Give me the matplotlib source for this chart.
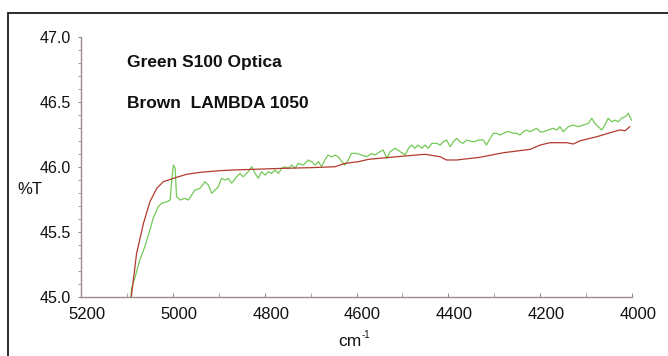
import numpy as np
import matplotlib
matplotlib.use("Agg")
from matplotlib import pyplot as plt
from matplotlib.patches import Rectangle
from matplotlib.transforms import ScaledTranslation

# S100 Optica (green) - wavenumber, %T
green_wn = [5091, 5090, 5082, 5072, 5061, 5050, 5043, 5032, 5024, 5013, 5006,
            5003, 4999, 4995, 4992, 4984, 4974, 4966, 4959, 4952, 4941, 4930,
            4923, 4915, 4908, 4901, 4894, 4886, 4879, 4872, 4861, 4854, 4847,
            4836, 4828, 4821, 4814, 4807, 4799, 4792, 4785, 4778, 4770, 4763,
            4756, 4749, 4741, 4734, 4727, 4716, 4705, 4698, 4690, 4683, 4676,
            4669, 4662, 4654, 4647, 4640, 4632, 4625, 4618, 4611, 4600, 4589,
            4578, 4567, 4560, 4549, 4542, 4534, 4527, 4516, 4505, 4494, 4487,
            4480, 4473, 4466, 4458, 4451, 4444, 4436, 4425, 4418, 4411, 4404,
            4396, 4389, 4382, 4375, 4368, 4360, 4349, 4342, 4335, 4324, 4317,
            4309, 4302, 4295, 4288, 4280, 4273, 4266, 4259, 4251, 4244, 4237,
            4229, 4222, 4215, 4208, 4200, 4193, 4182, 4172, 4164, 4157, 4150,
            4139, 4128, 4117, 4106, 4095, 4088, 4081, 4074, 4066, 4059, 4052,
            4044, 4037, 4030, 4023, 4015, 4008, 4005, 4001]
green_t = [45.000, 45.067, 45.156, 45.285, 45.387, 45.515, 45.605, 45.695,
           45.721, 45.733, 45.746, 45.875, 46.015, 45.990, 45.772, 45.746,
           45.759, 45.746, 45.785, 45.823, 45.836, 45.887, 45.862, 45.798,
           45.823, 45.848, 45.913, 45.900, 45.913, 45.875, 45.925, 45.951,
           45.925, 45.964, 46.002, 45.951, 45.913, 45.964, 45.938, 45.964,
           45.951, 45.977, 45.951, 45.990, 46.002, 45.990, 46.015, 45.990,
           46.028, 46.015, 46.054, 46.041, 46.015, 46.041, 46.002, 46.054,
           46.092, 46.077, 46.092, 46.079, 46.041, 46.015, 46.054, 46.105,
           46.105, 46.092, 46.079, 46.105, 46.092, 46.118, 46.131, 46.067,
           46.118, 46.144, 46.118, 46.092, 46.144, 46.169, 46.144, 46.169,
           46.144, 46.169, 46.144, 46.182, 46.182, 46.169, 46.195, 46.208,
           46.156, 46.195, 46.221, 46.195, 46.182, 46.208, 46.195, 46.195,
           46.208, 46.208, 46.169, 46.221, 46.259, 46.259, 46.246, 46.259,
           46.271, 46.271, 46.259, 46.259, 46.246, 46.271, 46.285, 46.271,
           46.285, 46.298, 46.271, 46.271, 46.285, 46.298, 46.285, 46.310,
           46.271, 46.310, 46.323, 46.310, 46.323, 46.336, 46.375, 46.336,
           46.310, 46.285, 46.323, 46.375, 46.348, 46.361, 46.348, 46.375,
           46.387, 46.413, 46.387, 46.361]

# LAMBDA 1050 (brown)
brown_wn = [5091, 5090, 5079, 5064, 5050, 5035, 5021, 4999, 4970, 4941, 4897,
            4869, 4760, 4700, 4647, 4625, 4596, 4574, 4538, 4494, 4451, 4418,
            4404, 4382, 4331, 4280, 4222, 4200, 4179, 4142, 4128, 4113, 4077,
            4048, 4026, 4015, 4005]
brown_t = [45.000, 45.015, 45.336, 45.567, 45.733, 45.836, 45.887, 45.913,
           45.944, 45.959, 45.972, 45.977, 45.990, 45.995, 46.002, 46.028,
           46.041, 46.059, 46.071, 46.085, 46.098, 46.079, 46.054, 46.054,
           46.075, 46.110, 46.136, 46.169, 46.187, 46.187, 46.177, 46.202,
           46.233, 46.264, 46.285, 46.279, 46.310]

plt.rcParams['font.family'] = ['Liberation Sans', 'DejaVu Sans']

fig = plt.figure(figsize=(6.68, 3.56), dpi=100)
ax = fig.add_axes([0.1213, 0.1657, 0.8249, 0.7303])

ax.plot(green_wn, green_t, color='#74c957', lw=0.9)
ax.plot(brown_wn, brown_t, color='#b23a2c', lw=0.9)

ax.set_xlim(5200, 4000)
ax.set_ylim(45.0, 47.0)
ax.set_xticks(np.arange(5200, 3999, -200))
ax.set_xticks(np.arange(5200, 3999, -100), minor=True)
ax.set_yticks([45.0, 45.5, 46.0, 46.5, 47.0])
ax.set_yticks(np.arange(45.0, 47.01, 0.1), minor=True)
ax.set_yticklabels(['45.0', '45.5', '46.0', '46.5', '47.0'])

for s in ['top', 'right']:
    ax.spines[s].set_visible(False)
for s in ['left', 'bottom']:
    ax.spines[s].set_color('#9a8c8c')
    ax.spines[s].set_linewidth(1.0)

ax.tick_params(axis='x', which='both', direction='in', length=3, color='#9a8c8c',
               labelsize=12, pad=7, labelcolor='#111111')
ax.tick_params(axis='y', which='both', direction='out', length=2, color='#9a8c8c',
               labelsize=11.5, pad=5, labelcolor='#111111')

shift = ScaledTranslation(0.06, 0, fig.dpi_scale_trans)
for lab in ax.get_xticklabels():
    lab.set_transform(lab.get_transform() + shift)

fig.text(127 / 668, 1 - 62 / 356, 'Green S100 Optica', fontsize=12.5,
         fontweight='bold', va='center', ha='left', color='#111111')
fig.text(127 / 668, 1 - 103 / 356, 'Brown  LAMBDA 1050', fontsize=12.5,
         fontweight='bold', va='center', ha='left', color='#111111')
fig.text(17 / 668, 1 - 190 / 356, '%T', fontsize=12, va='center', ha='left',
         color='#111111')
fig.text(338 / 668, 1 - 341 / 356, 'cm', fontsize=12.5, va='center',
         ha='left', color='#111111')
fig.text(362 / 668, 1 - 335 / 356, '-1', fontsize=7, va='center',
         ha='left', color='#111111')

fig.patches.append(Rectangle((8 / 668, -0.2), 1.2, 1.2 - 13 / 356,
                             transform=fig.transFigure, fill=False,
                             edgecolor='#1a1a1a', lw=1.3))

fig.savefig('out.png', dpi=100)
